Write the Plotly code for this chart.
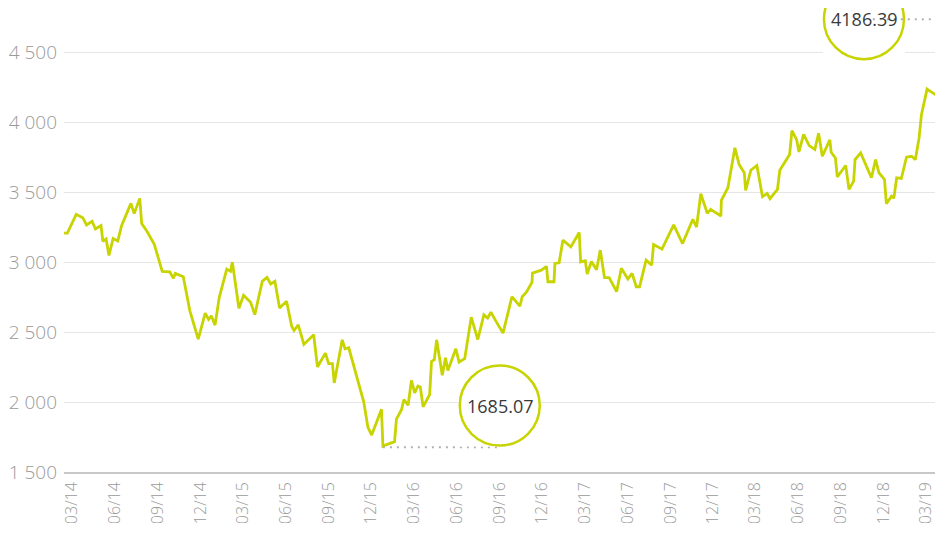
import plotly.graph_objects as go

# ── Data ────────────────────────────────────────────────────────────
dates = [
    "2014-02-12", "2014-02-19", "2014-03-10", "2014-03-24", "2014-04-01", "2014-04-13",
    "2014-04-20", "2014-05-02", "2014-05-06", "2014-05-13", "2014-05-19", "2014-05-28",
    "2014-06-07", "2014-06-15", "2014-07-05", "2014-07-12", "2014-07-24", "2014-07-28",
    "2014-08-08", "2014-08-24", "2014-09-10", "2014-09-26", "2014-10-04", "2014-10-08",
    "2014-10-25", "2014-11-08", "2014-11-26", "2014-12-11", "2014-12-18", "2014-12-24",
    "2015-01-01", "2015-01-10", "2015-01-26", "2015-02-03", "2015-02-07", "2015-02-21",
    "2015-03-03", "2015-03-18", "2015-03-27", "2015-04-12", "2015-04-22", "2015-04-30",
    "2015-05-09", "2015-05-19", "2015-06-03", "2015-06-14", "2015-06-19", "2015-06-28",
    "2015-07-10", "2015-07-31", "2015-08-08", "2015-08-25", "2015-09-01", "2015-09-09",
    "2015-09-13", "2015-09-30", "2015-10-06", "2015-10-14", "2015-11-15", "2015-11-24",
    "2015-12-02", "2015-12-23", "2015-12-26", "2016-01-20", "2016-01-24", "2016-02-04",
    "2016-02-09", "2016-02-18", "2016-02-25", "2016-03-03", "2016-03-10", "2016-03-15",
    "2016-03-21", "2016-04-04", "2016-04-08", "2016-04-14", "2016-04-19", "2016-05-01",
    "2016-05-08", "2016-05-13", "2016-05-30", "2016-06-06", "2016-06-18", "2016-07-02",
    "2016-07-16", "2016-07-29", "2016-08-06", "2016-08-13", "2016-08-25", "2016-09-08",
    "2016-09-27", "2016-10-14", "2016-10-19", "2016-10-28", "2016-11-09", "2016-11-10",
    "2016-11-29", "2016-12-10", "2016-12-13", "2016-12-26", "2016-12-28", "2017-01-06",
    "2017-01-14", "2017-01-31", "2017-02-18", "2017-02-21", "2017-03-03", "2017-03-07",
    "2017-03-16", "2017-03-27", "2017-04-04", "2017-04-13", "2017-04-23", "2017-05-09",
    "2017-05-19", "2017-06-02", "2017-06-11", "2017-06-20", "2017-06-27", "2017-07-11",
    "2017-07-23", "2017-07-27", "2017-08-14", "2017-09-08", "2017-09-27", "2017-10-19",
    "2017-10-27", "2017-11-05", "2017-11-19", "2017-11-26", "2017-12-18", "2017-12-19",
    "2018-01-02", "2018-01-17", "2018-01-26", "2018-02-06", "2018-02-09", "2018-02-20",
    "2018-03-05", "2018-03-17", "2018-03-27", "2018-04-02", "2018-04-18", "2018-04-23",
    "2018-05-14", "2018-05-19", "2018-05-29", "2018-06-03", "2018-06-13", "2018-06-25",
    "2018-07-07", "2018-07-15", "2018-07-23", "2018-08-08", "2018-08-11", "2018-08-20",
    "2018-08-24", "2018-09-11", "2018-09-18", "2018-09-28", "2018-10-01", "2018-10-13",
    "2018-11-05", "2018-11-14", "2018-11-21", "2018-12-03", "2018-12-07", "2018-12-18",
    "2018-12-23", "2018-12-29", "2019-01-08", "2019-01-19", "2019-01-30", "2019-02-07",
    "2019-02-15", "2019-02-20", "2019-03-04", "2019-03-27",
]

index_values = [
    3207, 3207, 3342, 3318, 3266, 3292,
    3237, 3261, 3148, 3166, 3048, 3169,
    3152, 3261, 3420, 3347, 3456, 3276,
    3223, 3128, 2934, 2931, 2884, 2920,
    2896, 2654, 2450, 2635, 2590, 2616,
    2550, 2749, 2950, 2934, 3000, 2671,
    2763, 2713, 2625, 2863, 2891, 2844,
    2863, 2673, 2720, 2540, 2511, 2552,
    2412, 2481, 2251, 2350, 2274, 2274,
    2137, 2445, 2381, 2388, 2002, 1819,
    1764, 1949, 1685.07, 1717, 1878, 1947,
    2018, 1977, 2155, 2066, 2115, 2108,
    1966, 2054, 2290, 2303, 2445, 2191,
    2317, 2226, 2381, 2286, 2310, 2607,
    2447, 2623, 2600, 2642, 2571, 2493,
    2753, 2685, 2753, 2785, 2856, 2922,
    2943, 2970, 2860, 2860, 2991, 2995,
    3157, 3109, 3212, 3002, 3010, 2915,
    3005, 2945, 3086, 2890, 2890, 2789,
    2957, 2879, 2920, 2824, 2824, 3014,
    2979, 3126, 3093, 3266, 3133, 3306,
    3251, 3489, 3349, 3377, 3330, 3442,
    3532, 3817, 3698, 3639, 3513, 3657,
    3691, 3468, 3491, 3454, 3520, 3657,
    3769, 3940, 3876, 3788, 3913, 3833,
    3805, 3921, 3757, 3874, 3785, 3745,
    3610, 3691, 3520, 3579, 3733, 3781,
    3603, 3733, 3639, 3591, 3418, 3472,
    3456, 3603, 3598, 3750, 3757, 3733,
    3888, 4054, 4237, 4186.39,
]

min_date, min_value = "2015-12-26", 1685.07
last_date, last_value = "2019-03-27", 4186.39

# ── Styling ─────────────────────────────────────────────────────────
LIME = "#c8d400"
DOT_GREY = "#b0b0b0"
TICK_GREY = "#9a9a9a"
FONT = "Open Sans, Noto Sans, sans-serif"
DOTTED = dict(color=DOT_GREY, width=2, dash="2px,5px")

fig = go.Figure()
fig.add_trace(go.Scatter(
    x=dates, y=index_values, mode="lines",
    line=dict(color=LIME, width=2.8),
    hoverinfo="skip", showlegend=False,
))

# leader from the last-value circle: a column of small grey dots just to
# the right of the line end (markers, so they are never clipped)
leader_levels = [4730, 4680, 4630, 4580, 4530, 4480, 4430, 4380, 4330]
fig.add_trace(go.Scatter(
    x=["2019-03-26"] * len(leader_levels), y=leader_levels,
    mode="markers", cliponaxis=False,
    marker=dict(symbol="square", size=2.4, color=DOT_GREY, line=dict(width=0)),
    hoverinfo="skip", showlegend=False,
))


def bubble(xc, yc, text, r=41):
    """White box + lime ring + label, sized in pixels around a data anchor."""
    common = dict(xref="x", yref="y", xsizemode="pixel", ysizemode="pixel",
                  xanchor=xc, yanchor=yc)
    fig.add_shape(type="rect", x0=-r, x1=r, y0=-r, y1=r,
                  fillcolor="white", line=dict(width=0), **common)
    fig.add_shape(type="circle", x0=-r + 1, x1=r - 1, y0=-r + 1, y1=r - 1,
                  fillcolor="white", line=dict(color=LIME, width=2.5), **common)
    fig.add_annotation(x=xc, y=yc, text=text, showarrow=False,
                       font=dict(family=FONT, size=18, color="#3a3a3a"))


# minimum: dotted line from the low point to the circle below 09/16
fig.add_shape(type="line", xref="x", yref="y",
              x0=min_date, x1="2016-09-01", y0=min_value - 8, y1=min_value - 8,
              line=DOTTED)
bubble("2016-09-01", min_value + 290, "1685.07")
bubble("2018-10-20", 4737, "4186.39")

# horizontal part of the last-value leader
fig.add_shape(type="line", xref="x", yref="y",
              x0="2018-11-08", x1="2019-03-26", y0=4737, y1=4737, line=DOTTED)

# the page body adds an 8px margin; keep 8 + height + 8 <= 533 so the page
# never scrolls
fig.update_layout(
    width=935, height=515,
    margin=dict(l=56, r=3, t=0, b=51),
    paper_bgcolor="white", plot_bgcolor="white",
    font=dict(family=FONT, size=19, color=TICK_GREY),
    separators=". ",
    showlegend=False,
    xaxis=dict(
        type="date",
        range=["2014-02-11 21:00", "2019-03-31 17:00"],
        tick0="2014-03-01", dtick="M3", tickformat="%m/%y",
        tickangle=-90, ticks="", showgrid=False,
        showline=True, linecolor="#c8c8c8", linewidth=1.5,
        tickfont=dict(family=FONT, size=16, color=TICK_GREY, weight=300),
        ticklabelstandoff=2,
        automargin=False,
    ),
    yaxis=dict(
        range=[1500, 4816.7], tick0=1500, dtick=500, tickformat=",d",
        showgrid=True, gridcolor="#e6e6e6", gridwidth=1,
        zeroline=False, showline=False, ticks="",
        tickfont=dict(family=FONT, size=19, color=TICK_GREY, weight=300),
        ticklabelstandoff=6,
        automargin=False,
    ),
)

fig.write_html("out.html")
